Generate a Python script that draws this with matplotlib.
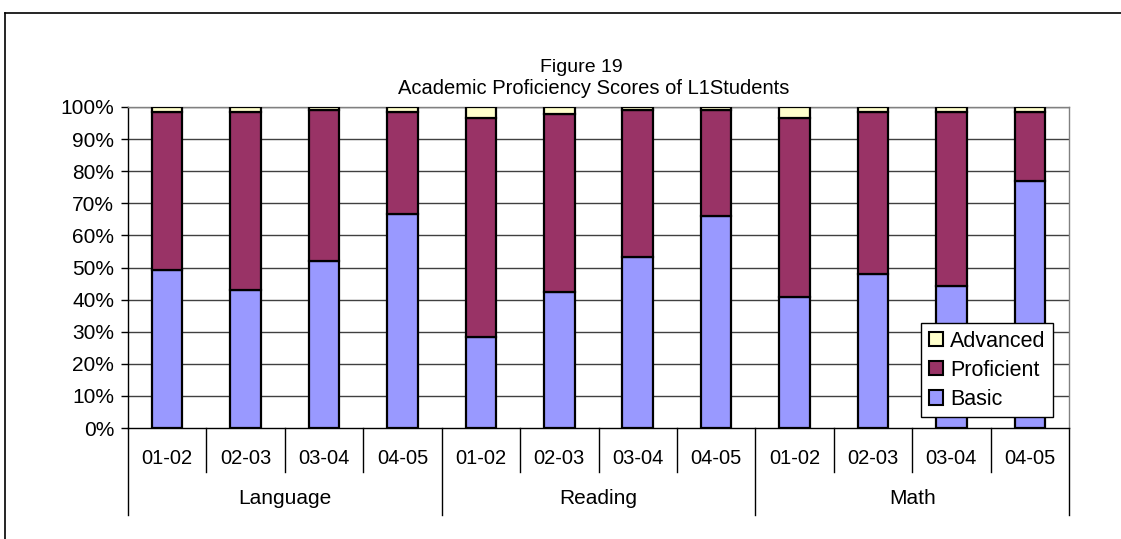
import matplotlib
matplotlib.use("Agg")
import matplotlib.pyplot as plt
from matplotlib.patches import Patch
from matplotlib.lines import Line2D
import matplotlib.transforms as mtransforms
import numpy as np

plt.rcParams['font.family'] = ['Liberation Sans', 'DejaVu Sans']

subjects = ["Language", "Reading", "Math"]
years = ["01-02", "02-03", "03-04", "04-05"]

# percent of students at each level, per subject and school year
basic = [49.2, 43.0, 52.1, 66.6,
         28.4, 42.3, 53.4, 66.0,
         40.9, 47.9, 44.3, 77.0]
proficient = [49.1, 55.3, 46.9, 31.7,
              68.1, 55.5, 45.8, 33.2,
              55.6, 50.5, 54.1, 21.4]
advanced = [1.7, 1.7, 1.0, 1.7,
            3.5, 2.2, 0.8, 0.8,
            3.5, 1.6, 1.6, 1.6]

C_BASIC = "#9999FF"
C_PROF = "#993366"
C_ADV = "#FFFFCC"

W, H = 1121, 539
fig = plt.figure(figsize=(W / 100, H / 100), dpi=100)
fig.patch.set_facecolor("white")

# plot area in pixels: x 128..1069, y 107..428
ax = fig.add_axes([128 / W, (H - 428) / H, (1069 - 128) / W, (428 - 107) / H])

n = len(basic)
x = np.arange(n)
b = np.array(basic)
p = np.array(proficient)
a = np.array(advanced)
bw = 0.39
ax.bar(x, b, width=bw, color=C_BASIC, edgecolor="black", linewidth=1.6, zorder=3)
ax.bar(x, p, bottom=b, width=bw, color=C_PROF, edgecolor="black", linewidth=1.6, zorder=3)
ax.bar(x, a, bottom=b + p, width=bw, color=C_ADV, edgecolor="black", linewidth=1.6, zorder=3)

ax.set_xlim(-0.5, n - 0.5)
ax.set_ylim(0, 100)
yt = np.arange(0, 101, 10)
ax.set_yticks(yt)
ax.set_yticklabels([f"{v}%" for v in yt], fontsize=15)
ax.tick_params(axis="y", length=5, width=1, direction="out", pad=5, color="black")
ax.set_xticks([])
for v in yt[1:]:
    ax.axhline(v, color="#404040", linewidth=1.0, zorder=1)

for s in ["top", "right"]:
    ax.spines[s].set_color("#808080")
    ax.spines[s].set_linewidth(1.0)
ax.spines["left"].set_color("black")
ax.spines["left"].set_linewidth(1.0)
ax.spines["bottom"].set_color("black")
ax.spines["bottom"].set_linewidth(1.0)

# two-tier category axis
trans = mtransforms.blended_transform_factory(ax.transData, ax.transAxes)
tier1 = -44 / 321
tier2 = -87 / 321
for i in range(n + 1):
    xs = i - 0.5
    lo = tier2 if i % len(years) == 0 else tier1
    ax.add_line(Line2D([xs, xs], [0, lo], transform=trans, color="black",
                       linewidth=1.0, clip_on=False))
for i in range(n):
    ax.text(i, -30 / 321, years[i % len(years)], transform=trans, ha="center",
            va="center", fontsize=14.5)
for g, name in enumerate(subjects):
    cx = g * len(years) + (len(years) - 1) / 2
    ax.text(cx, -71 / 321, name, transform=trans, ha="center", va="center",
            fontsize=15)

# titles
fig.text(581 / W, 1 - 67 / H, "Figure 19", ha="center", va="center", fontsize=14)
fig.text(594 / W, 1 - 89 / H, "Academic Proficiency Scores of L1Students",
         ha="center", va="center", fontsize=14.5)

# legend
handles = [Patch(facecolor=C_ADV, edgecolor="black", linewidth=1.5, label="Advanced"),
           Patch(facecolor=C_PROF, edgecolor="black", linewidth=1.5, label="Proficient"),
           Patch(facecolor=C_BASIC, edgecolor="black", linewidth=1.5, label="Basic")]
leg = fig.legend(handles=handles, loc="upper left",
                 bbox_to_anchor=(921 / W, 1 - 323 / H), bbox_transform=fig.transFigure,
                 fontsize=15.5, frameon=True, fancybox=False, shadow=False,
                 handlelength=0.65, handleheight=0.65, handletextpad=0.35,
                 labelspacing=0.38, borderpad=0.35, borderaxespad=0)
leg.get_frame().set_edgecolor("black")
leg.get_frame().set_linewidth(1.0)
leg.get_frame().set_alpha(1)

# outer chart border (top and left edges)
fig.add_artist(Line2D([5 / W, 1.0], [1 - 13 / H, 1 - 13 / H], transform=fig.transFigure,
                      color="black", linewidth=1.2))
fig.add_artist(Line2D([5 / W, 5 / W], [0, 1 - 13 / H], transform=fig.transFigure,
                      color="black", linewidth=1.2))

fig.savefig("out.png", dpi=100, facecolor="white")
